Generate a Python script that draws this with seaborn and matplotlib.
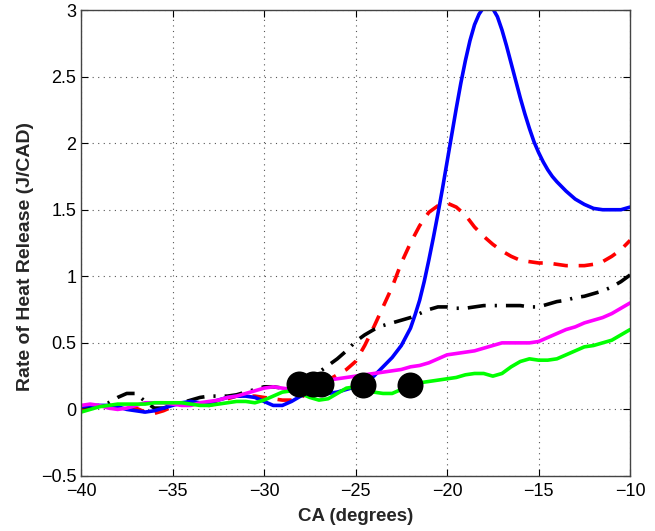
import numpy as np
import pandas as pd
import matplotlib
matplotlib.use("Agg")
import matplotlib.pyplot as plt
import seaborn as sns

ca = [-40 + 0.5 * i for i in range(61)]

# blue is sampled more finely around its peak
ca_blue = ([-40 + 0.5 * i for i in range(36)] +
           [-22 + 0.25 * i for i in range(33)] +
           [-13.5 + 0.5 * i for i in range(8)])

blue = [0.02, 0.03, 0.03, 0.03, 0.02, 0.00, -0.01, -0.02, -0.01, 0.01,
        0.03, 0.05, 0.06, 0.05, 0.05, 0.07, 0.09, 0.10, 0.10, 0.09,
        0.06, 0.03, 0.03, 0.06, 0.10, 0.12, 0.12, 0.12, 0.13, 0.15,
        0.17, 0.20, 0.25, 0.32, 0.39, 0.48,
        0.61, 0.71, 0.82, 0.96, 1.12, 1.29, 1.47, 1.66, 1.86, 2.06,
        2.26, 2.45, 2.62, 2.77, 2.89, 2.97, 3.02, 3.03, 3.01, 2.95,
        2.85, 2.73, 2.60, 2.47, 2.34, 2.22, 2.11, 2.01, 1.93,
        1.86, 1.80, 1.75, 1.71,
        1.64, 1.58, 1.54, 1.51, 1.50, 1.50, 1.50, 1.52]

red = [0.00, 0.02, 0.03, 0.02, 0.02, 0.03, 0.01, -0.02, -0.03, -0.01,
       0.02, 0.04, 0.05, 0.04, 0.03, 0.05, 0.08, 0.10, 0.10, 0.10,
       0.09, 0.08, 0.07, 0.07, 0.09, 0.13, 0.18, 0.22, 0.26, 0.30,
       0.36, 0.48, 0.62, 0.77, 0.92, 1.10, 1.25, 1.38, 1.48, 1.53,
       1.55, 1.52, 1.46, 1.37, 1.30, 1.24, 1.19, 1.15, 1.12, 1.11,
       1.10, 1.10, 1.09, 1.08, 1.08, 1.08, 1.09, 1.11, 1.15, 1.20, 1.27]

black = [0.02, 0.02, 0.03, 0.05, 0.09, 0.12, 0.12, 0.06, 0.01, 0.01,
         0.03, 0.05, 0.07, 0.09, 0.10, 0.10, 0.10, 0.11, 0.13, 0.15,
         0.17, 0.17, 0.16, 0.16, 0.19, 0.24, 0.28, 0.33, 0.38, 0.44,
         0.51, 0.56, 0.60, 0.63, 0.65, 0.67, 0.69, 0.72, 0.75, 0.77,
         0.77, 0.76, 0.76, 0.77, 0.78, 0.78, 0.78, 0.78, 0.78, 0.77,
         0.77, 0.79, 0.81, 0.82, 0.84, 0.85, 0.87, 0.89, 0.92, 0.96, 1.01]

magenta = [0.03, 0.04, 0.03, 0.01, 0.00, 0.01, 0.03, 0.05, 0.05, 0.05,
           0.04, 0.03, 0.03, 0.05, 0.06, 0.07, 0.09, 0.10, 0.12, 0.14,
           0.16, 0.17, 0.16, 0.15, 0.16, 0.18, 0.20, 0.22, 0.23, 0.24,
           0.25, 0.26, 0.27, 0.28, 0.29, 0.30, 0.32, 0.33, 0.35, 0.38,
           0.41, 0.42, 0.43, 0.44, 0.46, 0.48, 0.50, 0.50, 0.50, 0.50,
           0.51, 0.54, 0.57, 0.60, 0.62, 0.65, 0.67, 0.69, 0.72, 0.76, 0.80]

green = [-0.02, 0.00, 0.02, 0.03, 0.04, 0.04, 0.04, 0.04, 0.05, 0.05,
         0.05, 0.05, 0.04, 0.03, 0.03, 0.04, 0.05, 0.06, 0.06, 0.05,
         0.07, 0.10, 0.13, 0.14, 0.12, 0.09, 0.07, 0.08, 0.12, 0.16,
         0.17, 0.16, 0.13, 0.12, 0.12, 0.15, 0.18, 0.20, 0.21, 0.22,
         0.23, 0.24, 0.26, 0.27, 0.27, 0.25, 0.27, 0.32, 0.36, 0.38,
         0.37, 0.37, 0.38, 0.41, 0.44, 0.47, 0.48, 0.50, 0.52, 0.56, 0.60]

marker_x = [-28.1, -27.3, -26.9, -24.6, -22.0]
marker_y = [0.19, 0.19, 0.19, 0.18, 0.18]

sns.set_style("ticks")
plt.rcParams['font.family'] = ['Liberation Sans', 'DejaVu Sans']

fig = plt.figure(figsize=(6.55, 5.31), dpi=100)
ax = fig.add_axes([0.1237, 0.1036, 0.8383, 0.8775])

lw = 2.6
common = dict(ax=ax, lw=lw, solid_joinstyle='round', dash_joinstyle='round')
sns.lineplot(x=ca, y=red, color='#ff0000', linestyle=(0, (4, 3)), **common)
sns.lineplot(x=ca, y=black, color='#000000', linestyle=(0, (5, 2.5, 0.6, 2.5)), **common)
sns.lineplot(x=ca_blue, y=blue, color='#0000ff', **common)
sns.lineplot(x=ca, y=magenta, color='#ff00ff', **common)
sns.lineplot(x=ca, y=green, color='#00ff00', **common)
sns.scatterplot(x=marker_x, y=marker_y, ax=ax, color='black', s=300,
                edgecolor='black', zorder=5)

ax.set_xlim(-40, -10)
ax.set_ylim(-0.5, 3)
ax.set_xticks(np.arange(-40, -9, 5))
ax.set_yticks(np.arange(-0.5, 3.01, 0.5))
ax.set_yticklabels(['\u22120.5', '0', '0.5', '1', '1.5', '2', '2.5', '3'])
ax.grid(True, linestyle=(0, (1, 4)), color='#555555', linewidth=0.8)
ax.tick_params(direction='in', top=True, right=True, length=5, width=0.8,
               labelsize=13, colors='black')
ax.tick_params(axis='x', pad=5)
for s in ax.spines.values():
    s.set_visible(True)
    s.set_linewidth(1.0)
    s.set_color('#444444')

ax.set_xlabel('CA (degrees)', fontsize=13.5, fontweight='bold')
ax.set_ylabel('Rate of Heat Release (J/CAD)', fontsize=14, fontweight='bold')
ax.xaxis.set_label_coords(0.5, -0.068)
ax.yaxis.set_label_coords(-0.086, 0.47)

fig.savefig('out.png', dpi=100)
